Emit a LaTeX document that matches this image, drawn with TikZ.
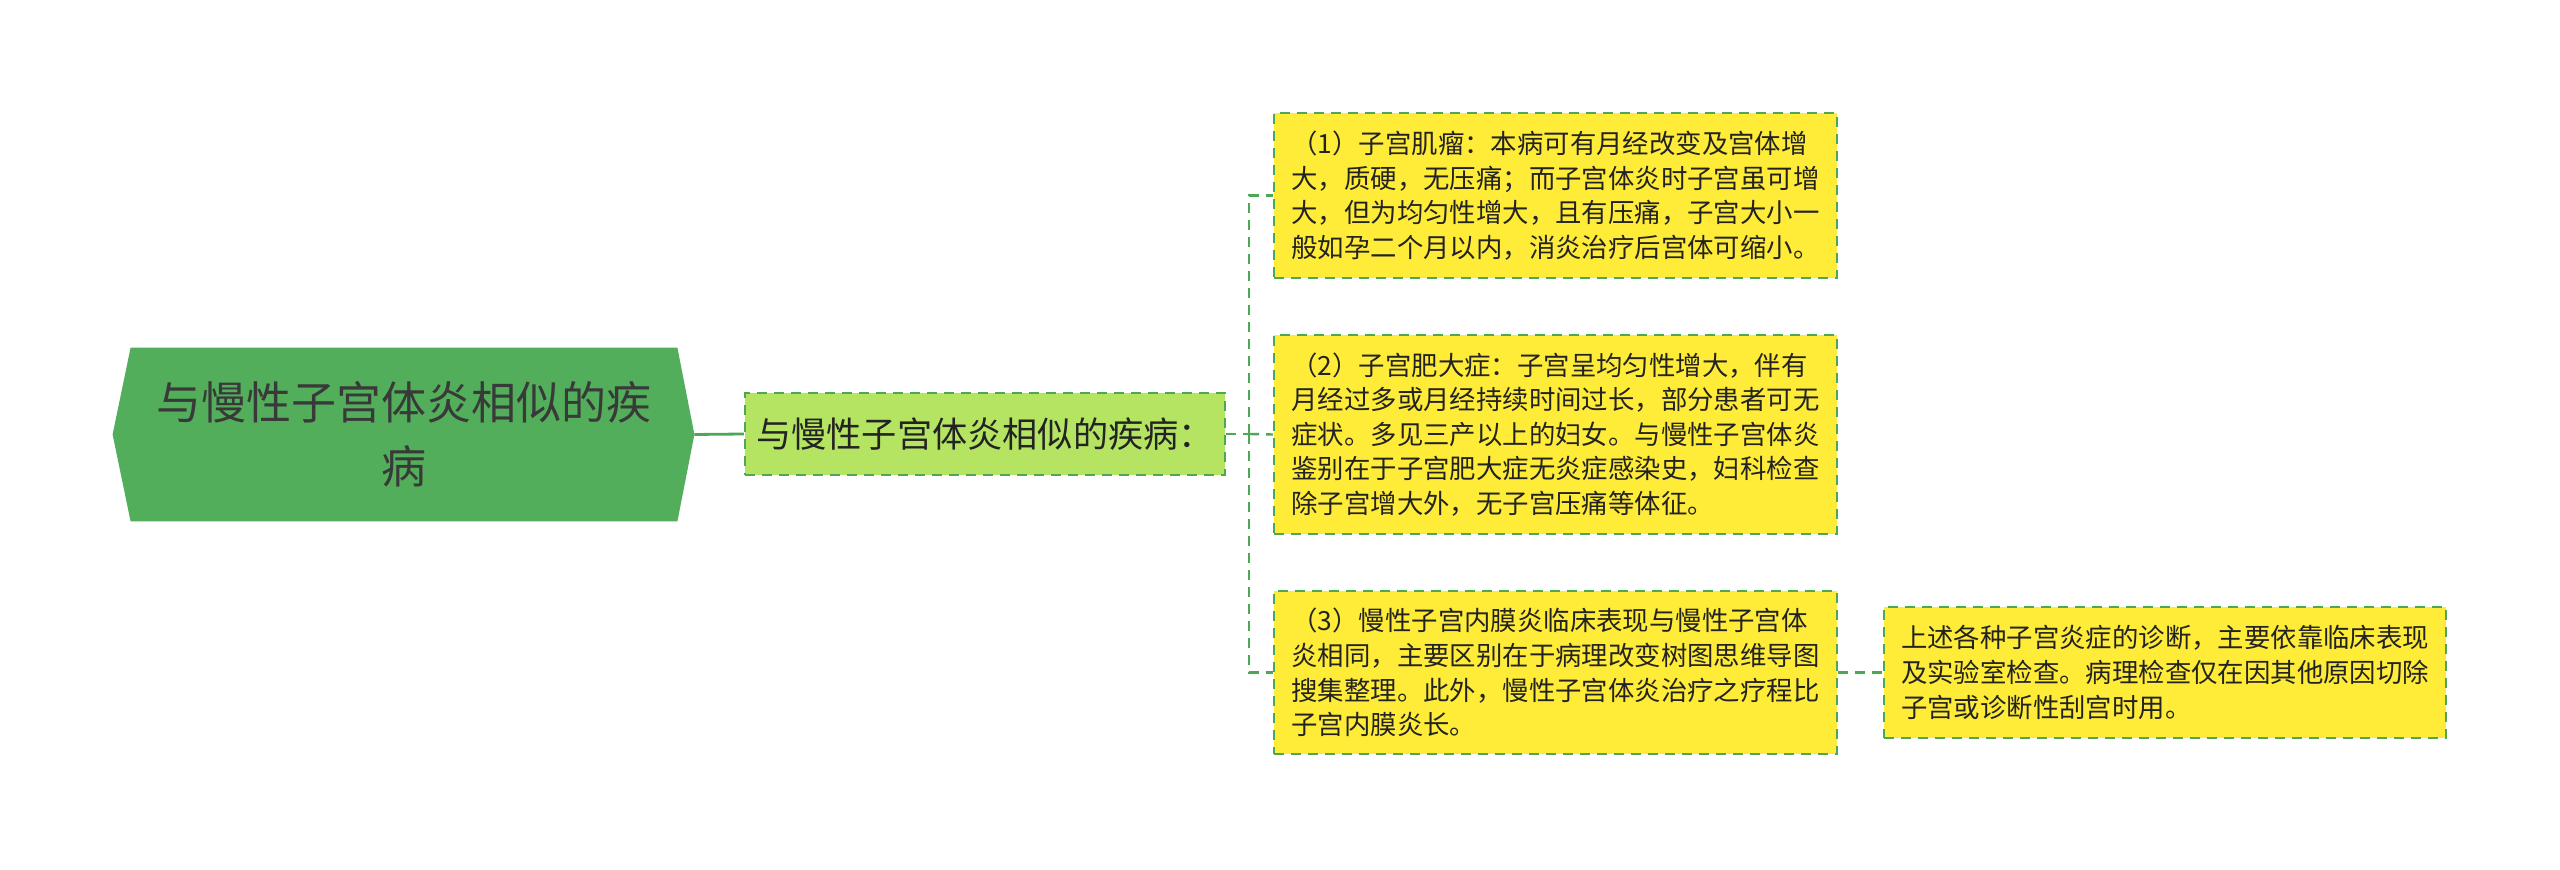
\documentclass[tikz,border=0pt]{standalone}
\usepackage{fontspec}
\setmainfont{Noto Sans CJK SC}
\usetikzlibrary{calc,backgrounds}
\definecolor{rootfill}{RGB}{82,174,90}
\definecolor{midfill}{RGB}{180,228,98}
\definecolor{yel}{RGB}{255,236,56}
\definecolor{edgec}{RGB}{76,168,82}
\definecolor{txt}{RGB}{35,35,35}
\begin{document}
\begin{tikzpicture}[x=0.5pt,y=-0.5pt,
  rootbox/.style={draw=none,minimum width=273pt,minimum height=86.5pt,align=center,
    text=txt!90,font=\fontsize{22.5pt}{32pt}\selectfont,inner sep=0pt},
  midbox/.style={draw=edgec,fill=midfill,line width=1.2pt,dash pattern=on 5pt off 3.5pt,
    minimum width=240pt,minimum height=41pt,align=left,text=txt,
    font=\fontsize{17.6pt}{22pt}\selectfont,inner sep=0pt},
  leafbox/.style={draw=edgec,fill=yel,line width=1.2pt,dash pattern=on 5pt off 3.5pt,
    minimum width=281.5pt,align=left,text=txt,
    font=\fontsize{13.2pt}{17.3pt}\selectfont,inner sep=0pt},
  conn/.style={draw=edgec,line width=1.2pt,dash pattern=on 5pt off 3.5pt},
  solidconn/.style={draw=edgec,line width=1.4pt}
]
\useasboundingbox (0,0) rectangle (2560,870);

\node[rootbox] (root) at (404,434.5) {与慢性子宫体炎相似的疾\\病};
\begin{pgfonlayer}{background}
\fill[white] (0,0) rectangle (2560,870);
\fill[rootfill] (root.north west) -- (root.north east) -- ($(root.east)+(17,0)$)
  -- (root.south east) -- (root.south west) -- ($(root.west)+(-18,0)$) -- cycle;
\end{pgfonlayer}
\coordinate (roottip) at ($(root.east)+(17,0)$);

\node[midbox] (mid) at (985,434) {与慢性子宫体炎相似的疾病：};

\node[leafbox,minimum height=82.5pt] (b1) at (1555.5,195.5)
 {（1）子宫肌瘤：本病可有月经改变及宫体增\\大，质硬，无压痛；而子宫体炎时子宫虽可增\\大，但为均匀性增大，且有压痛，子宫大小一\\般如孕二个月以内，消炎治疗后宫体可缩小。};
\node[leafbox,minimum height=99.5pt] (b2) at (1555.5,434.5)
 {（2）子宫肥大症：子宫呈均匀性增大，伴有\\月经过多或月经持续时间过长，部分患者可无\\症状。多见三产以上的妇女。与慢性子宫体炎\\鉴别在于子宫肥大症无炎症感染史，妇科检查\\除子宫增大外，无子宫压痛等体征。};
\node[leafbox,minimum height=81.5pt] (b3) at (1555.5,672.5)
 {（3）慢性子宫内膜炎临床表现与慢性子宫体\\炎相同，主要区别在于病理改变树图思维导图\\搜集整理。此外，慢性子宫体炎治疗之疗程比\\子宫内膜炎长。};
\node[leafbox,minimum height=65.5pt,minimum width=281pt] (b4) at (2165,672.5)
 {上述各种子宫炎症的诊断，主要依靠临床表现\\及实验室检查。病理检查仅在因其他原因切除\\子宫或诊断性刮宫时用。};

\draw[solidconn] (roottip) -- (mid.west);
\coordinate (trunk) at (1249,434);
\draw[conn] (mid.east) -- (trunk);
\draw[conn] (trunk) |- (b1.west);
\draw[conn] (trunk) -- (b2.west);
\draw[conn] (trunk) |- (b3.west);
\draw[conn] (b3.east) -- (b4.west);
\end{tikzpicture}
\end{document}
